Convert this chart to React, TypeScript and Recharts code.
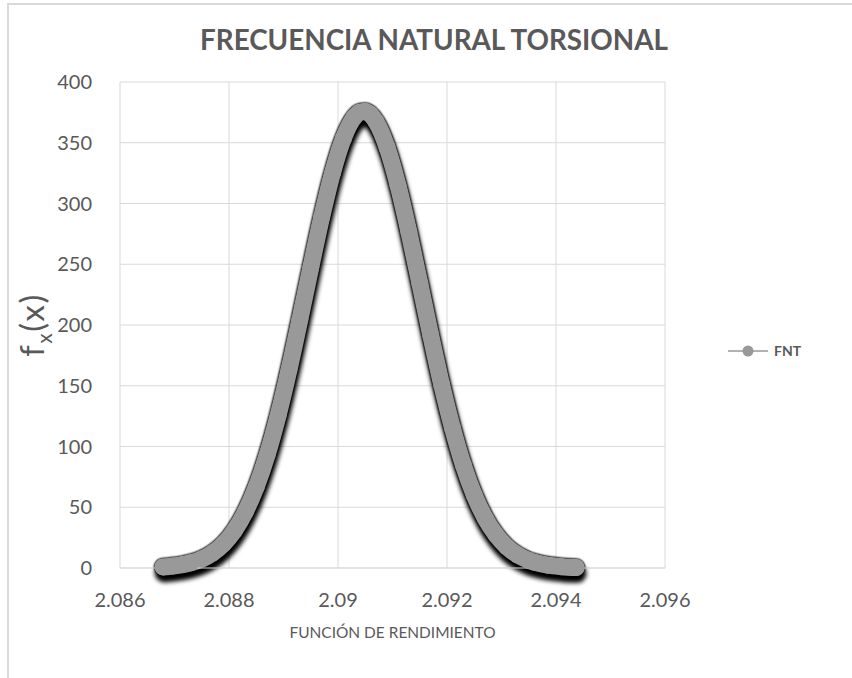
import React from 'react';
import { LineChart, Line, XAxis, YAxis, CartesianGrid, Legend } from 'recharts';

const chartTitle = 'FRECUENCIA NATURAL TORSIONAL';
const seriesName = 'FNT';
const xAxisTitle = 'FUNCIÓN DE RENDIMIENTO';
const xTicks = [2.086, 2.088, 2.09, 2.092, 2.094, 2.096];
const yTicks = [0, 50, 100, 150, 200, 250, 300, 350, 400];

const xValues = [
  2.08679, 2.08697, 2.08715, 2.0873, 2.0875, 2.0877, 2.0879, 2.0881, 2.0883, 2.0885,
  2.0887, 2.0889, 2.0891, 2.0893, 2.0895, 2.0897, 2.0899, 2.0901, 2.0903, 2.0904,
  2.0905, 2.0906, 2.0907, 2.0909, 2.0911, 2.0913, 2.0915, 2.0917, 2.0919, 2.0921,
  2.0923, 2.0925, 2.0927, 2.0929, 2.0931, 2.0933, 2.0935, 2.0936, 2.09385, 2.0941,
  2.09437,
];
const fntValues = [
  0.9, 1.6, 2.8, 4.3, 7.4, 12.4, 19.9, 30.9, 46.3, 66.9,
  93.3, 125.5, 163.1, 204.5, 247.4, 288.8, 325.4, 353.8, 371.2, 375.2,
  375.8, 373.2, 367.2, 346.3, 315.1, 276.7, 234.5, 191.8, 151.3, 115.3,
  84.7, 60.1, 41.1, 27.2, 17.3, 10.6, 6.3, 4.8, 2.3, 1.1,
  0.4,
];

const data = xValues.map((x, i) => ({ x, fnt: fntValues[i] }));

const FONT = 'Lato, "Open Sans", sans-serif';
const TEXT = '#595959';
const GRID = '#d9d9d9';
const BAND = '#999999';

const renderLegend = (props: any) => {
  const { payload } = props;
  return (
    <div style={{ display: 'flex', flexDirection: 'column' }}>
      {(payload || []).map((entry: any) => (
        <div key={entry.value} style={{ display: 'flex', alignItems: 'center' }}>
          <svg width={42} height={14} style={{ display: 'block' }}>
            <line x1={0} y1={7} x2={40} y2={7} stroke={BAND} strokeWidth={1.5} />
            <circle cx={20} cy={7} r={5.5} fill={BAND} />
          </svg>
          <span
            style={{
              marginLeft: 4,
              fontFamily: FONT,
              fontWeight: 700,
              fontSize: 14,
              color: TEXT,
              lineHeight: '14px',
            }}
          >
            {entry.value}
          </span>
        </div>
      ))}
    </div>
  );
};

const YTitle = (props: any) => {
  const vb = props.viewBox || {};
  const cx = 44;
  const cy = (vb.y || 0) + (vb.height || 0) / 2;
  return (
    <text
      x={cx}
      y={cy}
      transform={`rotate(-90 ${cx} ${cy})`}
      textAnchor="middle"
      fontFamily={FONT}
      fontSize={33}
      fill={TEXT}
      letterSpacing={1.5}
    >
      <tspan>f</tspan>
      <tspan fontSize={21} dy={8}>x</tspan>
      <tspan dy={-8}>(x)</tspan>
    </text>
  );
};

const XTitle = (props: any) => {
  const vb = props.viewBox || {};
  const cx = (vb.x || 0) + (vb.width || 0) / 2;
  const y = (vb.y || 0) + 70;
  return (
    <text
      x={cx}
      y={y}
      textAnchor="middle"
      fontFamily={FONT}
      fontSize={15}
      fill={TEXT}
      textLength={206}
      lengthAdjust="spacingAndGlyphs"
    >
      {xAxisTitle}
    </text>
  );
};

export default function App() {
  return (
    <div
      style={{
        position: 'absolute',
        left: 0,
        top: 0,
        width: 852,
        height: 678,
        overflow: 'hidden',
        background: '#ffffff',
      }}
    >
      <style>{`
        .fnt-series {
          filter: drop-shadow(0px 0px 1px rgba(0,0,0,1)) drop-shadow(0px 0px 0.6px rgba(0,0,0,1)) drop-shadow(1px 6px 2px rgba(0,0,0,1));
        }
      `}</style>
      <div
        style={{
          position: 'absolute',
          left: 7,
          top: 3,
          width: 900,
          height: 700,
          borderLeft: `2px solid ${GRID}`,
          borderTop: `2px solid ${GRID}`,
        }}
      />
      <svg
        width={852}
        height={70}
        style={{ position: 'absolute', left: 0, top: 0 }}
      >
        <text
          x={434}
          y={50}
          textAnchor="middle"
          fontFamily={FONT}
          fontWeight={700}
          fontSize={29}
          fill={TEXT}
          textLength={468}
          lengthAdjust="spacingAndGlyphs"
        >
          {chartTitle}
        </text>
      </svg>
      <div style={{ position: 'absolute', left: 0, top: 0 }}>
        <LineChart
          width={852}
          height={678}
          data={data}
          margin={{ top: 82, right: 187, left: 0, bottom: 70 }}
        >
          <CartesianGrid stroke={GRID} strokeWidth={1} />
          <XAxis
            dataKey="x"
            type="number"
            domain={[2.086, 2.096]}
            ticks={xTicks}
            allowDataOverflow
            height={40}
            tickLine={false}
            tickSize={0}
            tickMargin={25}
            axisLine={{ stroke: GRID }}
            tick={{ fontFamily: FONT, fontSize: 20, fill: TEXT }}
            interval={0}
            label={<XTitle />}
          />
          <YAxis
            type="number"
            domain={[0, 400]}
            ticks={yTicks}
            width={120}
            tickLine={false}
            tickSize={0}
            tickMargin={28}
            axisLine={false}
            tick={{ fontFamily: FONT, fontSize: 20, fill: TEXT }}
            interval={0}
            label={<YTitle />}
          />
          <Legend
            content={renderLegend}
            layout="horizontal"
            align="center"
            verticalAlign="middle"
            wrapperStyle={{ left: 728, top: 344, width: 110, height: 16 }}
          />
          <Line
            className="fnt-series"
            name={seriesName}
            dataKey="fnt"
            type="monotone"
            stroke={BAND}
            strokeWidth={17}
            strokeLinecap="round"
            strokeLinejoin="round"
            dot={{ r: 8.5, fill: BAND, stroke: 'none', strokeWidth: 0 }}
            activeDot={false}
            isAnimationActive={false}
          />
        </LineChart>
      </div>
    </div>
  );
}
